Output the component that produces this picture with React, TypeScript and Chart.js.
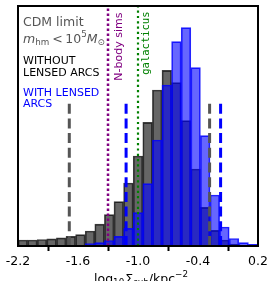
import React, { useEffect, useRef } from "react";
import { Chart, registerables } from "chart.js";
Chart.register(...registerables);

// histogram bin centres (bin width 0.096 over -2.2 .. 0.2)
const binCenters = [-2.152, -2.056, -1.96, -1.864, -1.768, -1.672, -1.576, -1.48, -1.384, -1.288, -1.192, -1.096, -1.0, -0.904, -0.808, -0.712, -0.616, -0.52, -0.424, -0.328, -0.232, -0.136, -0.04, 0.056, 0.152];
const withoutLensedArcs = [6, 6, 6.5, 7.2, 8.2, 9.7, 11.4, 15, 21.8, 31.3, 44.3, 63, 90, 123.7, 156, 175.7, 163.3, 125.3, 77, 38.7, 15.7, 6, 2, 0.7, 0.2];
const withLensedArcs = [0, 0, 0, 0, 0, 0, 0.5, 2.5, 3.3, 5.5, 9.7, 17.7, 33.3, 62.3, 106, 161, 204.3, 218.3, 178.3, 110.3, 51, 19, 7.5, 3.3, 1.7];
const xTicks = [-2.2, -1.6, -1.0, -0.4, 0.2];
const withoutInterval = [-1.687, -0.284];
const withInterval = [-1.119, -0.174];
const nbodyLimit = -1.3;
const galacticusLimit = -1.0;
const intervalHeight = 144;
const yMax = 240;

const FONT = "'DejaVu Sans', sans-serif";
const MONO = "'DejaVu Sans Mono', monospace";

type Run = { t: string; size: number; dy?: number; italic?: boolean; gap?: number };

function runsWidth(ctx: CanvasRenderingContext2D, runs: Run[]) {
  let w = 0;
  for (const r of runs) {
    ctx.font = `${r.italic ? "italic " : ""}${r.size}px ${FONT}`;
    w += ctx.measureText(r.t).width + (r.gap || 0);
  }
  return w;
}

function drawRuns(ctx: CanvasRenderingContext2D, runs: Run[], x: number, y: number) {
  ctx.textAlign = "left";
  ctx.textBaseline = "alphabetic";
  for (const r of runs) {
    ctx.font = `${r.italic ? "italic " : ""}${r.size}px ${FONT}`;
    ctx.fillText(r.t, x, y + (r.dy || 0));
    x += ctx.measureText(r.t).width + (r.gap || 0);
  }
}

const annotationPlugin = {
  id: "annotations",
  afterDraw(chart: any) {
    const ctx: CanvasRenderingContext2D = chart.ctx;
    const a = chart.chartArea;
    ctx.save();
    // frame
    ctx.strokeStyle = "#000";
    ctx.lineWidth = 2;
    ctx.strokeRect(a.left, a.top, a.right - a.left, a.bottom - a.top);

    // left texts
    ctx.textAlign = "left";
    ctx.textBaseline = "alphabetic";
    ctx.fillStyle = "#555555";
    ctx.font = `12.5px ${FONT}`;
    ctx.fillText("CDM limit", 23, 26);
    drawRuns(ctx, [
      { t: "m", size: 12.5, italic: true },
      { t: "hm", size: 8.75, dy: 2.8, gap: 3 },
      { t: "<", size: 12.5, gap: 2.5 },
      { t: "10", size: 12.5 },
      { t: "5", size: 8.75, dy: -5.2 },
      { t: "M", size: 12.5, italic: true },
      { t: "\u2299", size: 8.75, dy: 2.8 },
    ], 23, 42.5);

    ctx.fillStyle = "#000000";
    ctx.font = `11px ${FONT}`;
    ctx.fillText("WITHOUT", 23, 64);
    ctx.fillText("LENSED ARCS", 23, 76);
    ctx.fillStyle = "#0000ff";
    ctx.fillText("WITH LENSED", 23, 95.7);
    ctx.fillText("ARCS", 23, 107.3);

    // rotated labels
    ctx.save();
    ctx.translate(122.3, 12.5);
    ctx.rotate(-Math.PI / 2);
    ctx.textAlign = "right";
    ctx.fillStyle = "#800080";
    ctx.font = `11px ${FONT}`;
    ctx.fillText("N-body sims", 0, 0);
    ctx.restore();

    ctx.save();
    ctx.translate(148.7, 11.5);
    ctx.rotate(-Math.PI / 2);
    ctx.textAlign = "right";
    ctx.fillStyle = "#008000";
    ctx.font = `10.5px ${MONO}`;
    ctx.fillText("galacticus", 0, 0);
    ctx.restore();

    // x-axis title
    ctx.fillStyle = "#000";
    const title: Run[] = [
      { t: "log", size: 12.5 },
      { t: "10", size: 8.75, dy: 2.8, gap: 1 },
      { t: "\u03A3", size: 12.5 },
      { t: "sub", size: 8.75, dy: 2.8 },
      { t: "/kpc", size: 12.5 },
      { t: "\u22122", size: 8.75, dy: -5.2 },
    ];
    const w = runsWidth(ctx, title);
    drawRuns(ctx, title, 141 - w / 2, 282.5);
    ctx.restore();
  },
};

function vLine(x: number, top: number, color: string, width: number, dash: number[]) {
  return {
    type: "line" as const,
    data: [{ x, y: 0 }, { x, y: top }],
    borderColor: color,
    borderWidth: width,
    borderDash: dash,
    borderCapStyle: "butt" as const,
    pointRadius: 0,
    tension: 0,
    fill: false,
    order: 0,
  };
}

export default function App() {
  const ref = useRef<HTMLCanvasElement>(null);
  useEffect(() => {
    if (!ref.current) return;
    const chart = new Chart(ref.current, {
      type: "bar",
      data: {
        datasets: [
          {
            type: "bar",
            data: binCenters.map((x, i) => ({ x, y: withoutLensedArcs[i] })),
            backgroundColor: "rgba(0,0,0,0.6)",
            borderColor: "rgba(0,0,0,0.75)",
            borderWidth: 1,
            grouped: false,
            barPercentage: 1,
            categoryPercentage: 1,
            order: 3,
          } as any,
          {
            type: "bar",
            data: binCenters.map((x, i) => ({ x, y: withLensedArcs[i] })),
            backgroundColor: "rgba(0,0,255,0.6)",
            borderColor: "rgba(0,0,255,0.85)",
            borderWidth: 1,
            grouped: false,
            barPercentage: 1,
            categoryPercentage: 1,
            order: 2,
          } as any,
          vLine(withoutInterval[0], intervalHeight, "#555555", 3, [10, 4.7]),
          vLine(withoutInterval[1], intervalHeight, "#555555", 3, [10, 4.7]),
          vLine(withInterval[0], intervalHeight, "#0000ff", 3, [10, 4.7]),
          vLine(withInterval[1], intervalHeight, "#0000ff", 3, [10, 4.7]),
          vLine(nbodyLimit, yMax, "#800080", 2.5, [2.5, 2.5]),
          vLine(galacticusLimit, yMax, "#008000", 2.2, [2.2, 3.1]),
        ] as any,
      },
      options: {
        responsive: false,
        animation: false,
        layout: { padding: { left: 18, right: 16, top: 6, bottom: 0 } },
        plugins: { legend: { display: false }, tooltip: { enabled: false } },
        scales: {
          x: {
            type: "linear",
            min: -2.2,
            max: 0.2,
            offset: false,
            afterBuildTicks: (s: any) => {
              s.ticks = xTicks.map((v) => ({ value: v }));
            },
            afterFit: (s: any) => {
              s.height = 35;
            },
            ticks: {
              callback: (v: any) => Number(v).toFixed(1),
              font: { family: FONT, size: 12.5 },
              color: "#000",
              padding: 3,
              maxRotation: 0,
              autoSkip: false,
            },
            grid: { drawOnChartArea: false, drawTicks: true, tickLength: 5, tickWidth: 2, tickColor: "#000" },
            border: { display: true, color: "#000", width: 2 },
          },
          y: { display: false, min: 0, max: yMax },
        },
      } as any,
      plugins: [annotationPlugin],
    });
    return () => chart.destroy();
  }, []);
  return (
    <div style={{ position: "absolute", left: 0, top: 0, width: 274, height: 281 }}>
      <canvas ref={ref} width={274} height={281} style={{ display: "block" }} />
    </div>
  );
}
